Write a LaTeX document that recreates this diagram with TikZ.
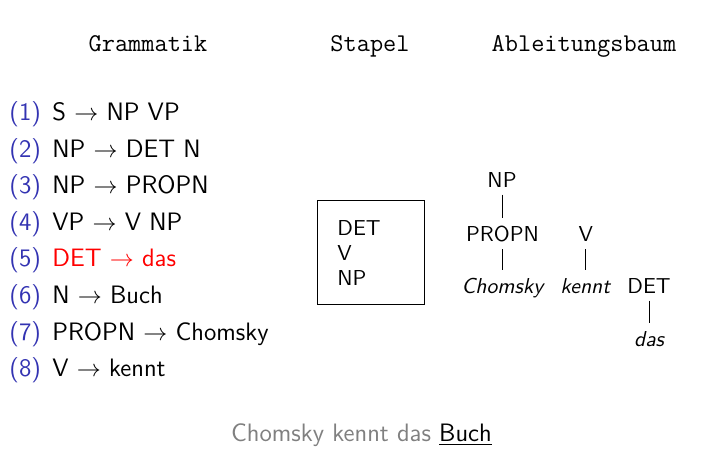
\documentclass[tikz,border=0pt]{standalone}
\usepackage{xcolor}
\definecolor{numblue}{rgb}{0.2,0.2,0.7}
\definecolor{sentgray}{gray}{0.5}
\tikzset{
  head/.style={anchor=base,inner sep=0pt,font=\ttfamily\fontsize{12.8}{15}\selectfont},
  rulenum/.style={anchor=base west,inner sep=0pt,font=\sffamily\fontsize{12.6}{15}\selectfont,text=numblue},
  ruletext/.style={anchor=base west,inner sep=0pt,font=\sffamily\fontsize{12.6}{15}\selectfont},
  stk/.style={anchor=base west,inner sep=0pt,font=\sffamily\fontsize{10.8}{13}\selectfont},
  tn/.style={anchor=base,inner sep=0pt,text height=7.4pt,text depth=0pt,font=\sffamily\fontsize{10.8}{13}\selectfont},
  edge/.style={draw,line width=0.4pt,shorten <=3.5pt,shorten >=4.3pt},
}
\begin{document}
\begin{tikzpicture}[x=0.5pt,y=-0.5pt]
\useasboundingbox (0,0) rectangle (721,454);
% headings
\node[head] (hg) at (148,52) {Grammatik};
\node[head] (hs) at (370,52) {Stapel};
\node[head] (ha) at (584,52) {Ableitungsbaum};
% rules
\foreach \i/\t in {1/{S $\rightarrow$ NP VP},2/{NP $\rightarrow$ DET N},3/{NP $\rightarrow$ PROPN},4/{VP $\rightarrow$ V NP},6/{N $\rightarrow$ Buch},7/{PROPN $\rightarrow$ Chomsky},8/{V $\rightarrow$ kennt}}{
  \node[rulenum] (n\i) at (9,{120.5+36.6*(\i-1)}) {(\i)};
  \node[ruletext] (r\i) at (52,{120.5+36.6*(\i-1)}) {\t};
}
\node[rulenum] (n5) at (9,{120.5+36.6*4}) {(5)};
\node[ruletext,text=red] (r5) at (52,{120.5+36.6*4}) {DET $\rightarrow$ das};
% stack
\node[draw,line width=0.4pt,minimum width=53.5pt,minimum height=52pt,inner sep=0pt] (box) at (370.8,252) {};
\node[stk] (s1) at (337,235) {DET};
\node[stk] (s2) at (337,260) {V};
\node[stk] (s3) at (337,285) {NP};
% tree
\node[tn] (np) at (502,187.3) {NP};
\node[tn] (propn) at (502.5,241.7) {PROPN};
\node[tn] (v) at (585.8,241.7) {V};
\node[tn] (chomsky) at (502.5,293.3) {\itshape Chomsky};
\node[tn] (kennt) at (585.3,293.3) {\itshape kennt};
\node[tn] (det) at (649,293.3) {DET};
\node[tn] (das) at (649,346.7) {\itshape das};
\path[edge] (np.south) -- (np.south |- propn.north);
\path[edge] (propn.south) -- (propn.south |- chomsky.north);
\path[edge] (v.south) -- (v.south |- kennt.north);
\path[edge] (det.south) -- (det.south |- das.north);
% sentence
\node[anchor=base,inner sep=0pt,font=\sffamily\fontsize{12.6}{15}\selectfont] (sent) at (361.5,441.7) {\textcolor{sentgray}{Chomsky kennt das} \underline{Buch}};
\end{tikzpicture}
\end{document}
